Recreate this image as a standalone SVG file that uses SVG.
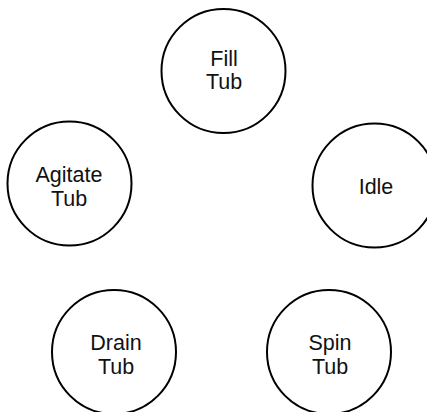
<svg xmlns="http://www.w3.org/2000/svg" width="427" height="412" viewBox="0 0 427 412">
<style>
.n{fill:#fff;stroke:#000;stroke-width:2}
.t{font-family:"Liberation Sans",Arial,sans-serif;font-size:21.5px;fill:#111;text-anchor:middle}
</style>
<rect width="427" height="412" fill="#fff"/>
<g id="connectors"></g>
<g id="fill"><circle class="n" cx="223.5" cy="71" r="62"/><text class="t" x="224" y="66">Fill</text><text class="t" x="224" y="89">Tub</text></g>
<g id="idle"><circle class="n" cx="374.5" cy="185.5" r="62"/><text class="t" x="376" y="194">Idle</text></g>
<g id="agitate"><circle class="n" cx="69.5" cy="183.5" r="62"/><text class="t" x="69" y="182">Agitate</text><text class="t" x="69" y="205.5">Tub</text></g>
<g id="drain"><circle class="n" cx="114" cy="352" r="62"/><text class="t" x="116" y="350">Drain</text><text class="t" x="116" y="373.5">Tub</text></g>
<g id="spin"><circle class="n" cx="329" cy="352" r="62"/><text class="t" x="330" y="350">Spin</text><text class="t" x="330" y="373.5">Tub</text></g>
</svg>
